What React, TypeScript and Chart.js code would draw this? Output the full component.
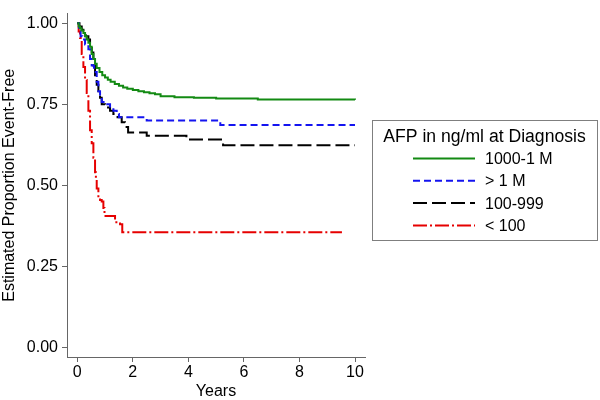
import React, { useEffect, useRef } from "react";
import { Chart, registerables } from "chart.js";

Chart.register(...registerables);

const FONT = "'Liberation Sans', Arial, Helvetica, sans-serif";

// ---- Data ----
const legendTitle = "AFP in ng/ml at Diagnosis";
const seriesLabels = ["1000-1 M", "> 1 M", "100-999", "< 100"];
const xTitle = "Years";
const yTitle = "Estimated Proportion Event-Free";
const xTicks = [0, 2, 4, 6, 8, 10];
const yTicks = [0, 0.25, 0.5, 0.75, 1.0];

const yearsMid = [0, 0.05, 0.1, 0.15, 0.22, 0.28, 0.34, 0.4, 0.46, 0.52, 0.58, 0.64, 0.7, 0.8, 0.9, 1.0, 1.1, 1.2, 1.35, 1.5, 1.65, 1.8, 2.0, 2.2, 2.4, 2.6, 2.8, 3.0, 3.5, 4.2, 5.0, 6.5, 10.0];
const survMid = [1, 0.99, 0.985, 0.978, 0.97, 0.96, 0.95, 0.94, 0.928, 0.905, 0.89, 0.875, 0.862, 0.85, 0.84, 0.833, 0.826, 0.82, 0.813, 0.807, 0.802, 0.798, 0.794, 0.79, 0.787, 0.784, 0.781, 0.775, 0.772, 0.77, 0.768, 0.765, 0.764];

const yearsHigh = [0, 0.06, 0.12, 0.18, 0.28, 0.4, 0.46, 0.52, 0.6, 0.7, 0.76, 0.82, 0.88, 1.0, 1.18, 1.3, 1.42, 1.5, 2.5, 5.15, 10.0];
const survHigh = [1, 0.975, 0.96, 0.95, 0.935, 0.92, 0.89, 0.87, 0.85, 0.82, 0.79, 0.775, 0.757, 0.75, 0.74, 0.73, 0.72, 0.71, 0.7, 0.686, 0.686];

const yearsLow = [0, 0.08, 0.16, 0.22, 0.3, 0.4, 0.46, 0.52, 0.58, 0.64, 0.7, 0.76, 0.82, 0.88, 1.0, 1.18, 1.3, 1.45, 1.6, 1.72, 1.83, 2.5, 3.93, 5.25, 10.0];
const survLow = [1, 0.99, 0.98, 0.97, 0.96, 0.95, 0.94, 0.91, 0.87, 0.84, 0.81, 0.79, 0.77, 0.75, 0.74, 0.73, 0.72, 0.71, 0.695, 0.68, 0.663, 0.653, 0.641, 0.624, 0.624];

const yearsUnder = [0, 0.05, 0.1, 0.16, 0.22, 0.28, 0.34, 0.4, 0.46, 0.52, 0.58, 0.64, 0.67, 0.7, 0.76, 0.82, 0.88, 0.94, 0.98, 1.36, 1.54, 1.62, 9.53];
const survUnder = [1, 0.975, 0.955, 0.905, 0.865, 0.825, 0.785, 0.73, 0.67, 0.63, 0.585, 0.54, 0.52, 0.49, 0.46, 0.455, 0.45, 0.43, 0.405, 0.386, 0.38, 0.355, 0.355];

const toPoints = (xs: number[], ys: number[]) => xs.map((x, i) => ({ x, y: ys[i] }));

const legendPlugin = {
  id: "kmLegend",
  afterDraw(chart: any) {
    const ctx = chart.ctx as CanvasRenderingContext2D;
    ctx.save();
    ctx.strokeStyle = "#7f7f7f";
    ctx.lineWidth = 1;
    ctx.setLineDash([]);
    ctx.strokeRect(372.5, 120.5, 225, 120);
    ctx.fillStyle = "#000";
    ctx.font = `17.6px ${FONT}`;
    ctx.textAlign = "center";
    ctx.textBaseline = "middle";
    ctx.fillText(legendTitle, 484.5, 137);
    chart.data.datasets.forEach((ds: any, i: number) => {
      const y = 158.5 + i * 22.3;
      ctx.strokeStyle = ds.borderColor;
      ctx.lineWidth = 2;
      ctx.setLineDash(ds.borderDash || []);
      ctx.beginPath();
      ctx.moveTo(413, y);
      ctx.lineTo(475, y);
      ctx.stroke();
      ctx.setLineDash([]);
      ctx.fillStyle = "#000";
      ctx.font = `16px ${FONT}`;
      ctx.textAlign = "left";
      ctx.fillText(ds.label, 485, y + 1);
    });
    ctx.restore();
  },
};

export default function App() {
  const ref = useRef<HTMLCanvasElement | null>(null);

  useEffect(() => {
    if (!ref.current) return;
    const common = {
      stepped: "before" as const,
      pointRadius: 0,
      borderWidth: 2,
      fill: false,
    };
    const chart = new Chart(ref.current, {
      type: "line",
      data: {
        datasets: [
          { ...common, label: seriesLabels[0], data: toPoints(yearsMid, survMid), borderColor: "#138a13", borderDash: [] },
          { ...common, label: seriesLabels[1], data: toPoints(yearsHigh, survHigh), borderColor: "#1414f0", borderDash: [7, 4] },
          { ...common, label: seriesLabels[2], data: toPoints(yearsLow, survLow), borderColor: "#000000", borderDash: [14, 5] },
          { ...common, label: seriesLabels[3], data: toPoints(yearsUnder, survUnder), borderColor: "#e60000", borderDash: [14, 3, 2, 3] },
        ],
      },
      options: {
        animation: false,
        responsive: false,
        layout: { padding: { top: 3, right: 235, left: 0, bottom: 0 } },
        plugins: { legend: { display: false }, tooltip: { enabled: false } },
        scales: {
          x: {
            type: "linear",
            min: -0.37,
            max: 10.36,
            afterBuildTicks: (s: any) => { s.ticks = xTicks.map((v) => ({ value: v })); },
            afterFit: (s: any) => { s.height = 43; },
            grid: { drawOnChartArea: false, drawTicks: true, tickLength: 5, color: "#666" },
            border: { display: true, color: "#666", width: 1 },
            ticks: { color: "#000", font: { family: FONT, size: 16 }, padding: 1, maxRotation: 0, callback: (v: any) => String(v) },
            title: { display: true, text: xTitle, color: "#000", font: { family: FONT, size: 16, lineHeight: 1.0 }, padding: 0 },
          },
          y: {
            type: "linear",
            min: -0.03,
            max: 1.03,
            afterBuildTicks: (s: any) => { s.ticks = yTicks.map((v) => ({ value: v })); },
            afterFit: (s: any) => { s.width = 67; },
            grid: { drawOnChartArea: false, drawTicks: true, tickLength: 5, color: "#666" },
            border: { display: true, color: "#666", width: 1 },
            ticks: { color: "#000", font: { family: FONT, size: 16 }, padding: 4, callback: (v: any) => Number(v).toFixed(2) },
            title: { display: true, text: yTitle, color: "#000", font: { family: FONT, size: 16 }, padding: 0 },
          },
        },
      },
      plugins: [legendPlugin],
    } as any);
    return () => chart.destroy();
  }, []);

  return (
    <div style={{ position: "absolute", left: 0, top: 0, width: 600, height: 400, background: "#fff" }}>
      <canvas ref={ref} width={600} height={400} />
    </div>
  );
}
